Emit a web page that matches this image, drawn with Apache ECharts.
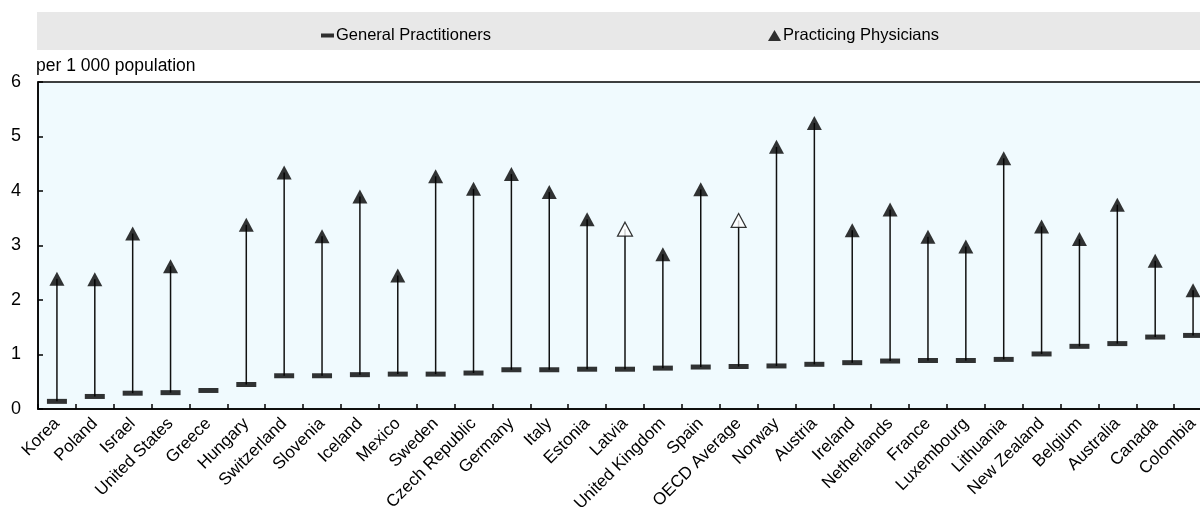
<!DOCTYPE html>
<html>
<head>
<meta charset="utf-8">
<script src="https://cdn.jsdelivr.net/npm/echarts@6/dist/echarts.min.js"></script>
<style>
  html, body { margin: 0; padding: 0; background: #fff; }
  #chart { width: 1200px; height: 507px; }
</style>
</head>
<body>
<div id="chart"></div>
<script>
// Doctors per 1 000 population by country
const countries = ['Korea', 'Poland', 'Israel', 'United States', 'Greece', 'Hungary', 'Switzerland',
  'Slovenia', 'Iceland', 'Mexico', 'Sweden', 'Czech Republic', 'Germany', 'Italy', 'Estonia',
  'Latvia', 'United Kingdom', 'Spain', 'OECD Average', 'Norway', 'Austria', 'Ireland',
  'Netherlands', 'France', 'Luxembourg', 'Lithuania', 'New Zealand', 'Belgium', 'Australia',
  'Canada', 'Colombia'];

const generalPractitioners = [0.14, 0.23, 0.29, 0.30, 0.34, 0.45, 0.61, 0.61, 0.63, 0.64, 0.64,
  0.66, 0.72, 0.72, 0.73, 0.73, 0.75, 0.77, 0.78, 0.79, 0.82, 0.85, 0.88, 0.89, 0.89, 0.91,
  1.01, 1.15, 1.20, 1.32, 1.35];

const practicingPhysicians = [2.39, 2.38, 3.22, 2.62, null, 3.38, 4.34, 3.17, 3.90, 2.45, 4.27,
  4.04, 4.31, 3.98, 3.48, 3.30, 2.84, 4.03, 3.46, 4.81, 5.25, 3.28, 3.66, 3.16, 2.98, 4.60,
  3.35, 3.12, 3.75, 2.72, 2.18];

// Countries whose physician marker is drawn as an outline only
const hollowMarks = ['Latvia', 'OECD Average'];

const yTicks = [0, 1, 2, 3, 4, 5, 6];

const FONT = "'Liberation Sans', Arial, sans-serif";

const chart = echarts.init(document.getElementById('chart'), null, { renderer: 'canvas' });

const stemData = countries.map((c, i) => [i, generalPractitioners[i], practicingPhysicians[i]]);

const physicianData = practicingPhysicians.map((v, i) => {
  if (hollowMarks.includes(countries[i])) {
    return { value: v, itemStyle: { color: '#ffffff', borderColor: '#000', borderWidth: 1.2 } };
  }
  return v;
});

chart.setOption({
  animation: false,
  textStyle: { fontFamily: FONT },
  graphic: [
    {
      type: 'rect', silent: true, z: -1,
      shape: { x: 37, y: 12, width: 1163, height: 38 },
      style: { fill: '#e8e8e8' }
    },
    {
      type: 'text', left: 36, top: 57,
      style: { text: 'per 1 000 population', fontFamily: FONT, fontSize: 17.5, fill: '#000' }
    }
  ],
  legend: [
    {
      data: ['General Practitioners'],
      left: 316, top: 22,
      icon: 'rect', itemWidth: 13, itemHeight: 4, itemGap: 0,
      textStyle: { fontFamily: FONT, fontSize: 16.5, color: '#000', padding: [0, 0, 0, -3] },
      selectedMode: false
    },
    {
      data: ['Practicing Physicians'],
      left: 763, top: 22,
      icon: 'triangle', itemWidth: 13, itemHeight: 11, itemGap: 0,
      textStyle: { fontFamily: FONT, fontSize: 16.5, color: '#000', padding: [0, 0, 0, -3] },
      selectedMode: false
    }
  ],
  grid: {
    left: 38, right: -12, top: 82, bottom: 98,
    outerBoundsMode: 'none',
    containLabel: false,
    show: true, backgroundColor: '#f0fafe', borderColor: '#000', borderWidth: 1.5
  },
  xAxis: {
    type: 'category',
    data: countries,
    boundaryGap: true,
    axisLine: { lineStyle: { color: '#000', width: 1.5 } },
    axisTick: { show: true, inside: true, length: 5, lineStyle: { color: '#000', width: 1.5 } },
    axisLabel: { rotate: 45, fontSize: 17, color: '#000', margin: 12, interval: 0, fontFamily: FONT },
    splitLine: { show: false }
  },
  yAxis: {
    type: 'value',
    min: yTicks[0], max: yTicks[yTicks.length - 1], interval: 1,
    axisLine: { show: true, lineStyle: { color: '#000', width: 1.5 } },
    axisTick: { show: true, inside: true, length: 5, lineStyle: { color: '#000', width: 1.5 } },
    axisLabel: { fontSize: 18, color: '#000', margin: 17, fontFamily: FONT },
    splitLine: { show: false }
  },
  series: [
    {
      name: 'stems',
      type: 'custom',
      z: 1,
      silent: true,
      data: stemData,
      renderItem: function (params, api) {
        const hi = api.value(2);
        if (hi == null || isNaN(hi)) return null;
        const p0 = api.coord([api.value(0), api.value(1)]);
        const p1 = api.coord([api.value(0), hi]);
        return {
          type: 'line',
          shape: { x1: p0[0], y1: p0[1], x2: p1[0], y2: p1[1] },
          style: { stroke: '#111', lineWidth: 1.5 }
        };
      },
      encode: { x: 0, y: [1, 2] }
    },
    {
      name: 'General Practitioners',
      type: 'scatter',
      z: 3,
      symbol: 'rect',
      symbolSize: [20, 5],
      itemStyle: { color: '#000' },
      data: generalPractitioners
    },
    {
      name: 'Practicing Physicians',
      type: 'scatter',
      z: 4,
      symbol: 'triangle',
      symbolSize: [15, 14],
      itemStyle: { color: '#000' },
      data: physicianData
    }
  ]
});
</script>
</body>
</html>
